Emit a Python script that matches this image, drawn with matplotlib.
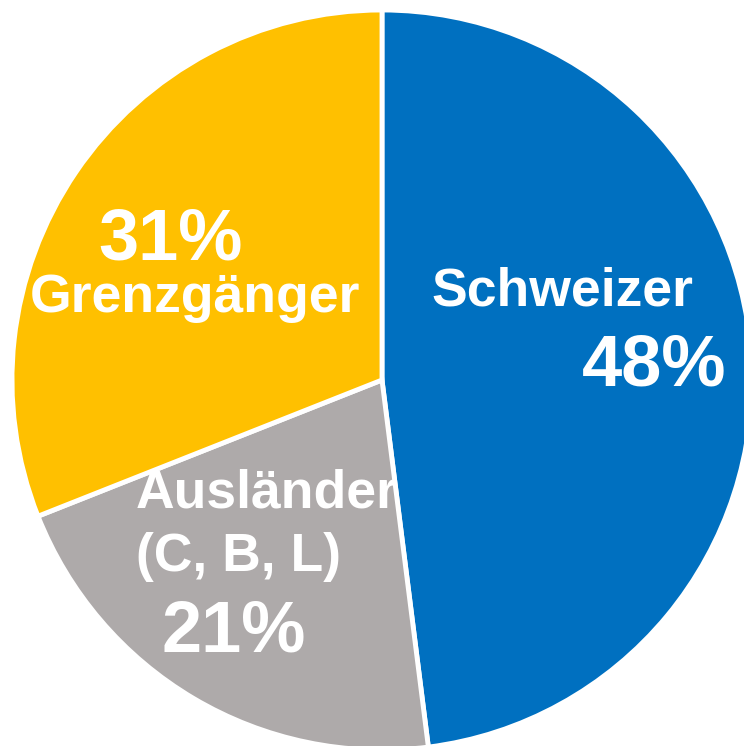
import matplotlib
matplotlib.use("Agg")
import matplotlib.pyplot as plt

categories = ["Schweizer", "Ausländer\n(C, B, L)", "Grenzgänger"]
values = [48, 21, 31]
colors = ["#0070C0", "#AEAAAA", "#FFC000"]

W, H = 744, 746
fig = plt.figure(figsize=(W / 100, H / 100), dpi=100)
ax = fig.add_axes([0, 0, 1, 1])
cx, cy, r = 382, H - 380, 370
ax.pie(values, colors=colors, startangle=90, counterclock=False,
       center=(cx, cy), radius=r,
       wedgeprops=dict(edgecolor="white", linewidth=3.5))
ax.set_xlim(0, W)
ax.set_ylim(0, H)
ax.set_aspect("auto")
ax.axis("off")

fam = ["Liberation Sans", "DejaVu Sans"]
def t(x, y, s, size, **kw):
    ax.text(x, H - y, s, color="white", fontsize=size, fontweight="bold",
            family=fam, ha="center", va="center", **kw)

t(562, 291, categories[0], 38.5)
t(654, 366, f"{values[0]}%", 52)
t(267, 493, "Ausländer", 38.5)
t(238, 557, "(C, B, L)", 38.5)
t(234, 633, f"{values[1]}%", 52)
t(171, 240, f"{values[2]}%", 52)
t(195, 298, categories[2], 38.5)

fig.savefig("out.png", dpi=100)
